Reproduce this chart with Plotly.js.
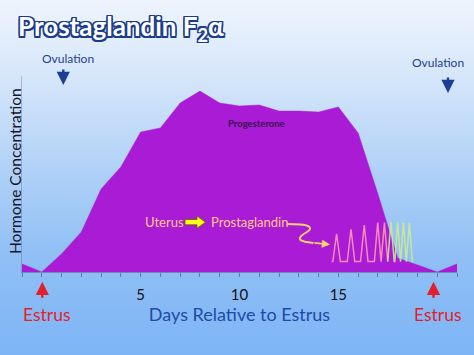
<!DOCTYPE html>
<html><head><meta charset="utf-8">
<script src="https://cdn.plot.ly/plotly-3.0.1.min.js"></script>
<style>
html,body{margin:0;padding:0;}
#chart{width:474px;height:355px;background:linear-gradient(to bottom,#eef4fd 0%,#d5e6fa 22%,#b0d1f7 48%,#90bff5 72%,#7db5f6 100%);}
</style></head><body><div id="chart"></div>
<script>
// ---- data ----
const days = [-1,0,1,2,3,4,5,6,7,8,9,10,11,12,13,14,15,16,17,18,19,20,21];
const progesterone = [0.41,0,0.92,2.04,4.23,5.36,7.14,7.35,8.62,9.23,8.62,8.47,8.52,8.21,8.21,8.16,8.42,7.09,3.98,0.71,0.36,0,0.41];
const pulseDays = [14.91,15.64,16.31,16.99,17.33,17.66,18.0,18.29,18.59];
const pulsePeaks = [1.95,2.18,2.40,2.52,2.52,2.55,2.55,2.52,2.52];
const pulseBase = 0.53;
const pulseStart = 14.66, pulseEnd = 18.78;
const xTickLabels = ['5','10','15'];
const xTickDays = [5,10,15];

// ---- build pulse traces (early pulses pink, late pulses yellow-green) ----
function pulseTrace(from, to, startX, endX) {
  const xs = [], ys = [];
  if (startX !== null) { xs.push(startX); ys.push(pulseBase); }
  for (let i = from; i < to; i++) {
    const prev = i > 0 ? pulseDays[i] - pulseDays[i-1] : 1;
    const next = i < pulseDays.length-1 ? pulseDays[i+1] - pulseDays[i] : 1;
    const hw = Math.min(0.19, prev/2, next/2);
    xs.push(pulseDays[i]-hw, pulseDays[i], pulseDays[i]+hw);
    ys.push(pulseBase, pulsePeaks[i], pulseBase);
  }
  if (endX !== null) { xs.push(endX); ys.push(pulseBase); }
  return {x: xs, y: ys};
}
const early = pulseTrace(0, 5, pulseStart, null);
const late = pulseTrace(5, pulseDays.length, null, pulseEnd);

const tickvals = days.slice();
const ticktext = days.map(d => { const k = xTickDays.indexOf(d); return k >= 0 ? xTickLabels[k] : ''; });

// ---- layout helpers (pixel -> paper) ----
const L = 22, R = 17, T = 76, B = 83, W = 474, H = 355;
const PW = W - L - R, PH = H - T - B;
const X = x => (x - L) / PW;
const Y = y => (H - B - y) / PH;
const path = pts => pts.map(p => typeof p === 'string' ? p : (X(p[0]).toFixed(4) + ',' + Y(p[1]).toFixed(4))).join(' ');

const FONT = 'Lato, "Open Sans", sans-serif';
const navy = '#1c3f94', red = '#e31f2a', peach = '#ffc885';

const traces = [
  {x: days, y: progesterone, type: 'scatter', mode: 'lines', fill: 'tozeroy',
   fillcolor: '#aa1bd6', line: {color: '#aa1bd6', width: 0.5}, hoverinfo: 'skip'},
  {x: early.x, y: early.y, type: 'scatter', mode: 'lines',
   line: {color: 'rgba(250,150,175,0.92)', width: 1.5}, hoverinfo: 'skip'},
  {x: late.x, y: late.y, type: 'scatter', mode: 'lines',
   line: {color: 'rgba(205,236,140,0.88)', width: 1.5}, hoverinfo: 'skip'}
];

const ann = (x, y, text, size, color, extra) => Object.assign({
  xref: 'paper', yref: 'paper', x: X(x), y: Y(y), text: text, showarrow: false,
  font: {family: FONT, size: size, color: color}, xanchor: 'center', yanchor: 'middle'
}, extra || {});
const arrow = (x, y, ay, color) => ({
  xref: 'paper', yref: 'paper', x: X(x), y: Y(y), text: '', showarrow: true,
  ax: 0, ay: ay, arrowhead: 2, arrowsize: 1.1, arrowwidth: 2.4, arrowcolor: color, standoff: 0
});

const layout = {
  width: W, height: H,
  margin: {l: L, r: R, t: T, b: B},
  paper_bgcolor: 'rgba(0,0,0,0)', plot_bgcolor: 'rgba(0,0,0,0)',
  showlegend: false,
  title: {text: 'Prostaglandin F<sub>2</sub>α', x: 18/W, xanchor: 'left', xref: 'container',
          y: 1 - 27/H, yanchor: 'middle', yref: 'container',
          font: {family: FONT, size: 26, weight: 'bold', color: '#ffffff',
                 shadow: '-1.5px -1.5px 0 #1b3c8c, 1.5px -1.5px 0 #1b3c8c, -1.5px 1.5px 0 #1b3c8c, 1.5px 1.5px 0 #1b3c8c, 0 -1.5px 0 #1b3c8c, 0 1.5px 0 #1b3c8c, -1.5px 0 0 #1b3c8c, 1.5px 0 0 #1b3c8c, 0 0 5px #ffffff'}},
  xaxis: {range: [-1, 21], tickvals: tickvals, ticktext: ticktext, ticks: 'outside', ticklen: 4,
          tickcolor: 'rgba(70,80,120,0.6)', showline: true, linecolor: 'rgba(70,80,120,0.45)', linewidth: 1,
          showgrid: false, zeroline: false, ticklabelstandoff: 5,
          tickfont: {family: FONT, size: 15, color: '#111111'},
          title: {text: 'Days Relative to Estrus', standoff: 4, font: {family: FONT, size: 18, color: '#1f4aa6'}}},
  yaxis: {range: [0, 10], showticklabels: false, ticks: '', showgrid: false, zeroline: false,
          showline: true, linecolor: 'rgba(90,100,130,0.35)', linewidth: 1},
  annotations: [
    ann(15, 171, 'Hormone Concentration', 15.5, '#15152a', {textangle: -90}),
    ann(67.5, 58.5, 'Ovulation', 12, navy),
    arrow(63.3, 85, -17, navy),
    ann(437.5, 62.5, 'Ovulation', 12, navy),
    arrow(448, 93, -17, navy),
    ann(46.7, 314, 'Estrus', 17.5, red),
    arrow(42.3, 281.7, 17.6, red),
    ann(438, 314, 'Estrus', 17.5, red),
    arrow(433.5, 281.7, 17.6, red),
    ann(256.7, 123.3, '<b>Progesterone</b>', 9.5, '#3a0f50'),
    ann(142.7, 221.7, 'Uterus', 13, peach, {xanchor: 'left'}),
    ann(209.3, 221.7, 'Prostaglandin', 13, peach, {xanchor: 'left'}),
    {xref: 'paper', yref: 'paper', x: X(330), y: Y(244.6), text: '', showarrow: true,
     ax: -17, ay: -2, arrowhead: 2, arrowsize: 0.9, arrowwidth: 1.8, arrowcolor: '#ffd36b', standoff: 0}
  ],
  shapes: [
    {type: 'path', xref: 'paper', yref: 'paper', fillcolor: '#ffff14', line: {color: '#6b5a00', width: 0.8},
     path: 'M' + path([[185,219.5],'L',[197,219.5],'L',[197,216],'L',[205.5,222.2],'L',[197,228.3],'L',[197,224.8],'L',[185,224.8]]) + ' Z'},
    {type: 'path', xref: 'paper', yref: 'paper', line: {color: '#ffd36b', width: 2},
     path: 'M' + path([[286.7,224],'L',[300,224.5],'C',[310,225],[313,228.5],[307,232],'C',[300,236],[296,240],[305,241.8],'L',[313.5,242.9]])}
  ]
};

Plotly.newPlot('chart', traces, layout, {staticPlot: true, displayModeBar: false});
</script></body></html>
